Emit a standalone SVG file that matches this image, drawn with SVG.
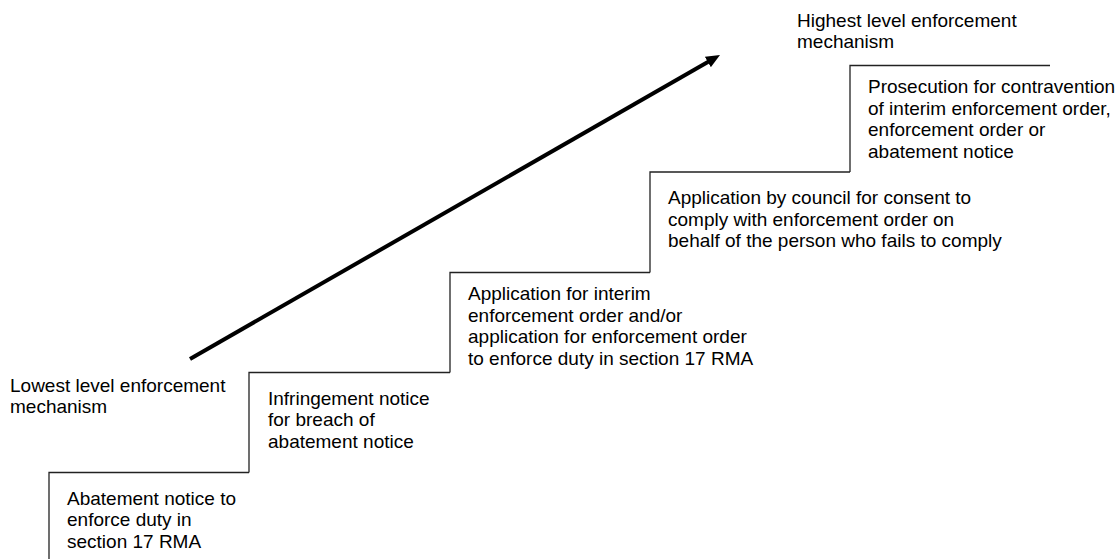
<svg xmlns="http://www.w3.org/2000/svg" width="1120" height="559" viewBox="0 0 1120 559">
  <style>
    text { font-family: "Liberation Sans", Arial, sans-serif; font-size: 19px; fill: #000; }
    .stair { fill: none; stroke: #222; stroke-width: 1.3; }
    .rise { fill: none; stroke: #000; stroke-width: 4; }
  </style>
  <defs>
    <marker id="head" viewBox="0 0 14 12" refX="2" refY="6" markerWidth="14" markerHeight="12" markerUnits="userSpaceOnUse" orient="auto">
      <path d="M0,0 L14,6 L0,12 z" fill="#000"/>
    </marker>
  </defs>
  <rect width="1120" height="559" fill="#fff"/>

  <!-- rising escalation arrow -->
  <g id="connectors">
    <line class="rise" x1="190" y1="359" x2="709.6" y2="61" marker-end="url(#head)"/>
  </g>

  <!-- end labels -->
  <g id="label-lowest">
    <text x="10" y="391.5">Lowest level enforcement</text>
    <text x="10" y="413">mechanism</text>
  </g>
  <g id="label-highest">
    <text x="797" y="26.5">Highest level enforcement</text>
    <text x="797" y="48">mechanism</text>
  </g>

  <!-- staircase steps -->
  <g id="step-1">
    <path class="stair" d="M49,559 V472.5 H249"/>
    <text x="67" y="504.5">Abatement notice to</text>
    <text x="67" y="526">enforce duty in</text>
    <text x="67" y="547.5">section 17 RMA</text>
  </g>
  <g id="step-2">
    <path class="stair" d="M249,472.5 V372.5 H450"/>
    <text x="268" y="404.5">Infringement notice</text>
    <text x="268" y="426">for breach of</text>
    <text x="268" y="447.5">abatement notice</text>
  </g>
  <g id="step-3">
    <path class="stair" d="M450,372.5 V272.5 H650"/>
    <text x="468" y="300">Application for interim</text>
    <text x="468" y="321.5">enforcement order and/or</text>
    <text x="468" y="343">application for enforcement order</text>
    <text x="468" y="364.5">to enforce duty in section 17 RMA</text>
  </g>
  <g id="step-4">
    <path class="stair" d="M650,272.5 V172 H850"/>
    <text x="668" y="204">Application by council for consent to</text>
    <text x="668" y="225.5">comply with enforcement order on</text>
    <text x="668" y="247">behalf of the person who fails to comply</text>
  </g>
  <g id="step-5">
    <path class="stair" d="M850,172 V65.5 H1050"/>
    <text x="868" y="93">Prosecution for contravention</text>
    <text x="868" y="114.5">of interim enforcement order,</text>
    <text x="868" y="136">enforcement order or</text>
    <text x="868" y="157.5">abatement notice</text>
  </g>
</svg>
